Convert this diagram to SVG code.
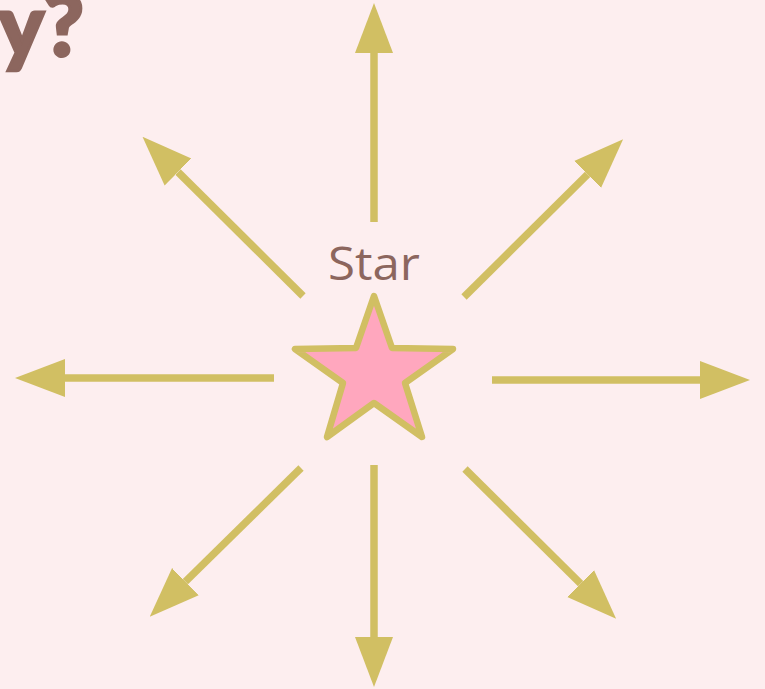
<svg xmlns="http://www.w3.org/2000/svg" width="765" height="689" viewBox="0 0 765 689">
<style>
.c{stroke:#D1BF63;stroke-width:7.5;fill:none;marker-end:url(#ah)}
.lbl{font-family:"Open Sans","Liberation Sans",sans-serif;fill:#8C665E}
</style>
<defs>
<marker id="ah" markerUnits="userSpaceOnUse" markerWidth="50" markerHeight="40" viewBox="0 0 50 40" refX="0" refY="20" orient="auto">
<path d="M0,1 L50,20 L0,39 Z" fill="#D1BF63"/>
</marker>
</defs>
<rect width="765" height="689" fill="#FDEEEF"/>
<g id="title">
<text x="84" y="56" text-anchor="end" class="lbl" font-size="86" font-weight="900" stroke="#8C665E" stroke-width="3" style="font-family:Lato,'Liberation Sans',sans-serif">y?</text>
</g>
<g id="connectors">
<line class="c" x1="374" y1="222" x2="374" y2="53"/>
<line class="c" x1="374" y1="465" x2="374" y2="637"/>
<line class="c" x1="274" y1="378" x2="65" y2="378"/>
<line class="c" x1="492" y1="380" x2="700" y2="380"/>
<line class="c" x1="303" y1="296" x2="178" y2="172"/>
<line class="c" x1="464" y1="297" x2="587.6" y2="174.4"/>
<line class="c" x1="301" y1="468" x2="185.4" y2="581.6"/>
<line class="c" x1="465" y1="469" x2="580.6" y2="583.6"/>
</g>
<g id="star">
<text x="374" y="280" text-anchor="middle" class="lbl" font-size="45" textLength="92" lengthAdjust="spacingAndGlyphs">Star</text>
<polygon points="374,296 392,348 453,349 405,383 422,437 374,403 327,437 343,383 295,349 356,348" fill="#FFA7BE" stroke="#D1BF63" stroke-width="6.5" stroke-linejoin="round"/>
</g>
</svg>
